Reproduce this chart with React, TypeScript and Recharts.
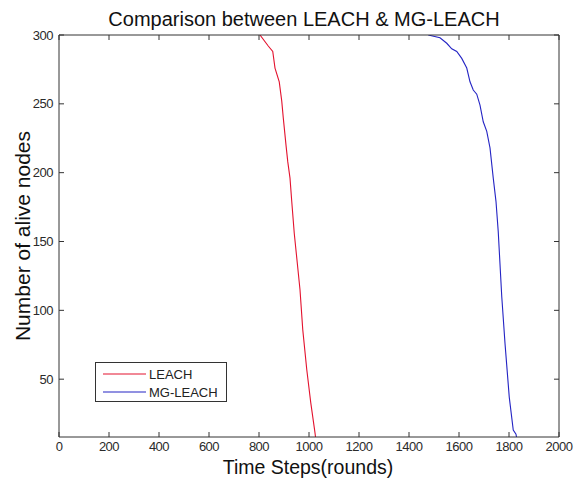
import React from "react";
import { LineChart, Line, XAxis, YAxis, Legend, CartesianGrid } from "recharts";

const leachRounds = [804, 837, 855, 864, 881, 891, 897, 908, 915, 924, 931, 941, 964, 975, 991, 1007, 1024, 1026];
const leachAlive = [300, 292, 288, 276, 266, 252, 240, 220, 208, 196, 179, 156, 115, 86, 57, 33, 11, 8];

const mgRounds = [1477, 1524, 1551, 1571, 1591, 1611, 1631, 1644, 1657, 1671, 1684, 1697, 1711, 1724, 1737, 1748, 1757, 1771, 1784, 1801, 1817, 1828, 1830];
const mgAlive = [300, 298, 294, 290, 288, 283, 276, 266, 260, 257, 249, 237, 230, 218, 196, 179, 157, 110, 76, 37, 13, 10, 8];

const xTicks = [0, 200, 400, 600, 800, 1000, 1200, 1400, 1600, 1800, 2000];
const yTicks = [50, 100, 150, 200, 250, 300];

const seriesNames = ["LEACH", "MG-LEACH"];
const seriesColors = ["#e3122e", "#2424c4"];

const leachData = leachRounds.map((r, i) => ({ round: r, alive: leachAlive[i] }));
const mgData = mgRounds.map((r, i) => ({ round: r, alive: mgAlive[i] }));

const FONT = "'Liberation Sans', Arial, Helvetica, sans-serif";
const AXIS = "#333";
const TICKTXT = "#2a2a2a";
const TL = 5;

const BottomTick = (p: any) => (
  <text x={p.x} y={p.y + 14} textAnchor="middle" fontSize={13} letterSpacing={-0.5} fill={TICKTXT} fontFamily={FONT}>
    {p.payload.value}
  </text>
);
const LeftTick = (p: any) => (
  <text x={p.x - 6} y={p.y + 4.5} textAnchor="end" fontSize={13} letterSpacing={-0.5} fill={TICKTXT} fontFamily={FONT}>
    {p.payload.value}
  </text>
);

// Inward tick marks on all four sides, drawn through the grid's own tick positions.
const HorizontalTicks = (p: any) => (
  <g key={p.key}>
    <line x1={p.x1} x2={p.x1 + TL} y1={p.y1} y2={p.y1} stroke={AXIS} strokeWidth={1} />
    <line x1={p.x2 - TL} x2={p.x2} y1={p.y2} y2={p.y2} stroke={AXIS} strokeWidth={1} />
  </g>
);
const VerticalTicks = (p: any) => (
  <g key={p.key}>
    <line x1={p.x1} x2={p.x1} y1={p.y1} y2={p.y1 + TL} stroke={AXIS} strokeWidth={1} />
    <line x1={p.x2} x2={p.x2} y1={p.y2 - TL} y2={p.y2} stroke={AXIS} strokeWidth={1} />
  </g>
);

const LegendBox = (props: any) => {
  const payload = props.payload || [];
  return (
    <div
      style={{
        width: 130,
        height: 38,
        border: "1px solid #333",
        background: "#fff",
        fontFamily: FONT,
        fontSize: 13,
        color: "#222",
        boxSizing: "content-box",
      }}
    >
      {payload.map((e: any, i: number) => (
        <div key={i} style={{ display: "flex", alignItems: "center", height: 18, marginTop: i === 0 ? 2 : 0 }}>
          <svg width={52} height={18}>
            <line x1={7} x2={50} y1={9} y2={9} stroke={e.color} strokeWidth={1.2} />
          </svg>
          <span style={{ marginLeft: 1 }}>{e.value}</span>
        </div>
      ))}
    </div>
  );
};

const axisCommon = {
  tickSize: 0,
  tickMargin: 0,
  tickLine: false,
  axisLine: { stroke: AXIS },
  interval: 0 as const,
};

export default function App() {
  return (
    <div style={{ position: "absolute", left: 0, top: 0, width: 574, height: 481, background: "#fff" }}>
      <LineChart width={574} height={481} margin={{ top: 34, right: 14, bottom: 43, left: 58 }}>
        <CartesianGrid
          xAxisId="b"
          yAxisId="l"
          horizontal={HorizontalTicks}
          vertical={VerticalTicks}
          horizontalValues={yTicks}
          verticalValues={xTicks}
          stroke={AXIS}
          fill="none"
        />
        <Line
          xAxisId="b"
          yAxisId="l"
          data={leachData}
          dataKey="alive"
          name={seriesNames[0]}
          stroke={seriesColors[0]}
          strokeWidth={1.1}
          dot={false}
          type="linear"
          isAnimationActive={false}
        />
        <Line
          xAxisId="b"
          yAxisId="l"
          data={mgData}
          dataKey="alive"
          name={seriesNames[1]}
          stroke={seriesColors[1]}
          strokeWidth={1.1}
          dot={false}
          type="linear"
          isAnimationActive={false}
        />
        <XAxis
          xAxisId="b"
          type="number"
          dataKey="round"
          domain={[0, 2000]}
          ticks={xTicks}
          orientation="bottom"
          height={1}
          tick={BottomTick}
          {...axisCommon}
        />
        <XAxis
          xAxisId="t"
          type="number"
          dataKey="round"
          domain={[0, 2000]}
          ticks={xTicks}
          orientation="top"
          height={1}
          tick={false}
          {...axisCommon}
        />
        <YAxis
          yAxisId="l"
          type="number"
          domain={[8, 300]}
          ticks={yTicks}
          allowDataOverflow
          width={1}
          tick={LeftTick}
          {...axisCommon}
        />
        <YAxis
          yAxisId="r"
          orientation="right"
          type="number"
          domain={[8, 300]}
          ticks={yTicks}
          allowDataOverflow
          width={1}
          tick={false}
          {...axisCommon}
        />
        <Legend
          layout="horizontal"
          align="center"
          verticalAlign="middle"
          content={<LegendBox />}
          wrapperStyle={{ left: 95, top: 362, width: 132, height: 40 }}
        />
      </LineChart>
      <svg
        width={574}
        height={481}
        style={{ position: "absolute", left: 0, top: 0, pointerEvents: "none" }}
      >
        <text x={304} y={26} textAnchor="middle" fontSize={20} fill="#111" fontFamily={FONT}>
          Comparison between LEACH &amp; MG-LEACH
        </text>
        <text x={308} y={474} textAnchor="middle" fontSize={19.5} fill="#111" fontFamily={FONT}>
          Time Steps(rounds)
        </text>
        <text
          x={0}
          y={0}
          transform="translate(30,236) rotate(-90)"
          textAnchor="middle"
          fontSize={21}
          fill="#111"
          fontFamily={FONT}
        >
          Number of alive nodes
        </text>
      </svg>
    </div>
  );
}
